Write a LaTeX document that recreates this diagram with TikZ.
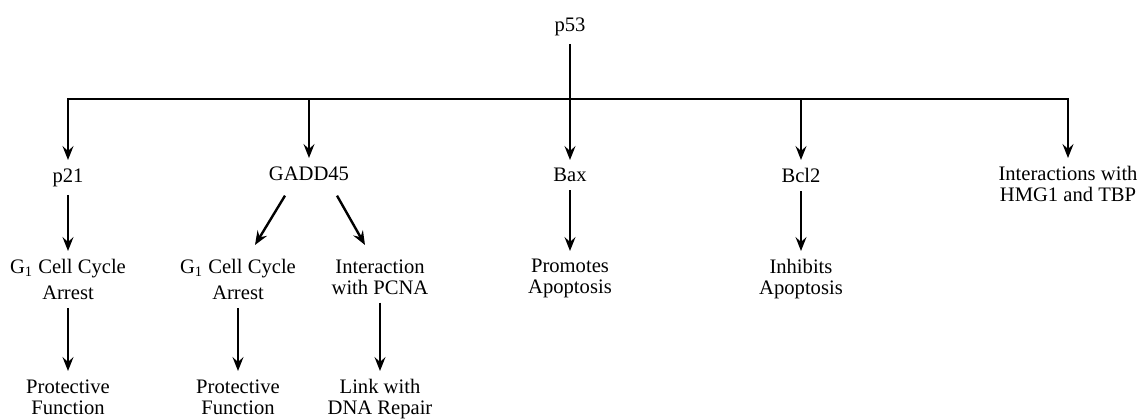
\documentclass[tikz,border=0pt]{standalone}
\usepackage{fontspec}
\setmainfont{Liberation Serif}
\usetikzlibrary{arrows.meta,calc}
\begin{document}
\begin{tikzpicture}[x=0.5pt, y=-0.5pt,
   lbl/.style={anchor=north, align=center, inner xsep=2pt, inner ysep=4pt,
      font=\fontsize{10.3}{10.5}\selectfont},
   arr/.style={line width=0.75pt, -{Stealth[length=7pt,width=5.5pt,inset=2.5pt]}},
   arrtwo/.style={line width=0.75pt, {Stealth[length=7pt,width=5.5pt,inset=2.5pt]}-{Stealth[length=7pt,width=5.5pt,inset=2.5pt]}},
   diag/.style={arr, line width=1.2pt}]
\useasboundingbox (0,0) rectangle (1141,418);

\node[lbl] (p53) at (570,9) {p53};
\coordinate (bus) at (570,99);

\node[lbl] (p21) at (68,160) {p21};
\node[lbl] (gadd) at (309,158) {GADD45};
\node[lbl] (bax) at (570,160) {Bax};
\node[lbl] (bcl) at (801,160) {Bcl2};
\node[lbl] (inter) at (1068,158) {Interactions with\\HMG1 and TBP};

\node[lbl] (arrestA) at (68,251) {G\textsubscript{1} Cell Cycle\\[2.5pt]Arrest};
\node[lbl] (arrestB) at (238,251) {G\textsubscript{1} Cell Cycle\\[2.5pt]Arrest};
\node[lbl] (pcna) at (380,251) {Interaction\\with PCNA};
\node[lbl] (promo) at (570,251) {Promotes\\Apoptosis};
\node[lbl] (inhib) at (801,251) {Inhibits\\Apoptosis};

\node[lbl] (protA) at (68,371) {Protective\\Function};
\node[lbl] (protB) at (238,371) {Protective\\Function};
\node[lbl] (link) at (380,371) {Link with\\DNA Repair};

\draw[arr] (p53) -- (bax);
\draw[arrtwo] (p21.north) |- (bus) -| (inter.north);
\draw[arr] (bus -| gadd) -- (gadd);
\draw[arr] (bus -| bcl) -- (bcl);

\draw[arr] (p21) -- (arrestA);
\draw[diag] ([xshift=-12pt,yshift=-3.5pt]gadd.south) -- ([xshift=8.5pt,yshift=3pt]arrestB.north);
\draw[diag] ([xshift=14pt,yshift=-3.5pt]gadd.south) -- ([xshift=-7.5pt,yshift=3pt]pcna.north);
\draw[arr] (bax) -- (promo);
\draw[arr] (bcl) -- (inhib);

\draw[arr] (arrestA) -- (protA);
\draw[arr] (arrestB) -- (protB);
\draw[arr] (pcna) -- (link);

\end{tikzpicture}
\end{document}
